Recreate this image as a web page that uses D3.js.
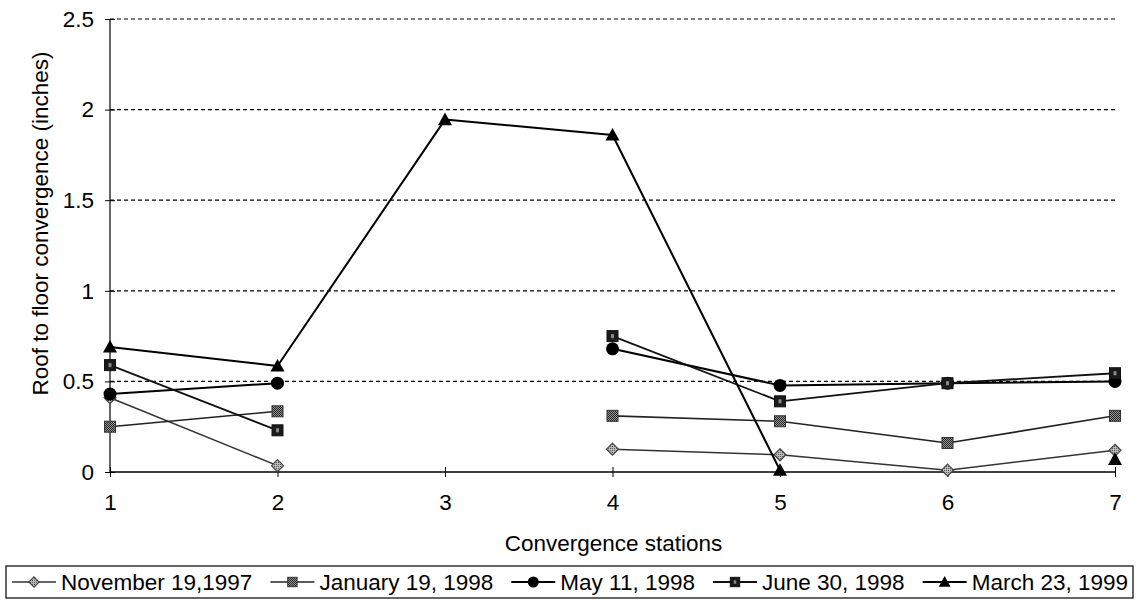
<!DOCTYPE html>
<html>
<head>
<meta charset="utf-8">
<script src="https://cdn.jsdelivr.net/npm/d3@7"></script>
<style>
  html, body { margin: 0; padding: 0; background: #fff; }
  svg { display: block; font-family: Arial, "Liberation Sans", sans-serif; }
</style>
</head>
<body>
<svg id="chart" width="1137" height="606"></svg>
<script>
// Convergence stations along the x axis
const stations = [1, 2, 3, 4, 5, 6, 7];
const yTicks = [0, 0.5, 1, 1.5, 2, 2.5];

// Roof to floor convergence (inches) per survey date; null = no reading
const nov1997 = [0.41, 0.035, null, 0.126, 0.095, 0.01, 0.12];
const jan1998 = [0.25, 0.335, null, 0.31, 0.28, 0.16, 0.31];
const may1998 = [0.43, 0.49, null, 0.68, 0.478, 0.49, 0.50];
const jun1998 = [0.59, 0.23, null, 0.75, 0.39, 0.49, 0.545];
const mar1999 = [0.69, 0.585, 1.945, 1.86, 0.01, null, 0.07];

const seriesNames = ["November 19,1997", "January 19, 1998", "May 11, 1998", "June 30, 1998", "March 23, 1999"];

const series = [
  { name: seriesNames[0], values: nov1997, marker: "diamond", line: "#333", lw: 1.5 },
  { name: seriesNames[1], values: jan1998, marker: "squareGray", line: "#222", lw: 1.6 },
  { name: seriesNames[2], values: may1998, marker: "circle", line: "#000", lw: 2 },
  { name: seriesNames[3], values: jun1998, marker: "squareDark", line: "#111", lw: 1.8 },
  { name: seriesNames[4], values: mar1999, marker: "triangle", line: "#000", lw: 2 }
];

const svg = d3.select("#chart");
const FONT = 22.5;

// halftone-like fills for the grey markers
const defs = svg.append("defs");
const pg = defs.append("pattern").attr("id", "halfGray")
  .attr("width", 2).attr("height", 2).attr("patternUnits", "userSpaceOnUse");
pg.append("rect").attr("width", 2).attr("height", 2).attr("fill", "#999");
pg.append("rect").attr("width", 1).attr("height", 1).attr("fill", "#222");
pg.append("rect").attr("x", 1).attr("y", 1).attr("width", 1).attr("height", 1).attr("fill", "#222");

const pd = defs.append("pattern").attr("id", "halfDiamond")
  .attr("width", 2).attr("height", 2).attr("patternUnits", "userSpaceOnUse");
pd.append("rect").attr("width", 2).attr("height", 2).attr("fill", "#bbb");
pd.append("rect").attr("width", 1).attr("height", 1).attr("fill", "#555");

const x = d3.scaleLinear().domain([1, 7]).range([110, 1115]);
const y = d3.scaleLinear().domain([0, 2.5]).range([472, 19]);

// dashed horizontal gridlines
svg.append("g").selectAll("line").data(yTicks.filter(d => d > 0)).join("line")
  .attr("x1", x(1)).attr("x2", x(7) + 2)
  .attr("y1", d => y(d)).attr("y2", d => y(d))
  .attr("stroke", "#000").attr("stroke-width", 1.2)
  .attr("stroke-dasharray", "4,3");

// y axis with ticks crossing the axis line
const yAxis = svg.append("g").attr("transform", `translate(${x(1)},0)`)
  .call(d3.axisLeft(y).tickValues(yTicks).tickFormat(d3.format("")).tickSize(5).tickPadding(11));
yAxis.select(".domain").attr("stroke", "#333").attr("stroke-width", 1.5).attr("d", `M0,${y(2.5)}V${y(0)}`);
yAxis.selectAll(".tick line").attr("x2", -5).attr("x1", 5).attr("stroke", "#000");
yAxis.selectAll(".tick text").attr("font-size", FONT).attr("fill", "#000")
  .attr("font-family", "Arial, 'Liberation Sans', sans-serif");

// x axis
const xAxis = svg.append("g").attr("transform", `translate(0,${y(0)})`)
  .call(d3.axisBottom(x).tickValues(stations).tickFormat(d3.format("d")).tickSize(5).tickPadding(17));
xAxis.select(".domain").attr("stroke", "#000").attr("stroke-width", 1.5).attr("d", `M${x(1)},0H${x(7)}`);
xAxis.selectAll(".tick line").attr("y1", -5).attr("y2", 5).attr("stroke", "#000");
xAxis.selectAll(".tick text").attr("font-size", FONT).attr("fill", "#000")
  .attr("font-family", "Arial, 'Liberation Sans', sans-serif");

// axis titles
svg.append("text").attr("x", (x(1) + x(7)) / 2 + 1).attr("y", 551)
  .attr("text-anchor", "middle").attr("font-size", FONT).text("Convergence stations");
svg.append("text").attr("transform", `translate(48,${(y(0) + y(2.5)) / 2 - 22}) rotate(-90)`)
  .attr("text-anchor", "middle").attr("font-size", FONT).text("Roof to floor convergence (inches)");

// marker drawing
function drawMarker(g, type, cx, cy, scale = 1) {
  if (type === "diamond") {
    const s = 6 * scale;
    g.append("path").attr("d", `M${cx},${cy - s}L${cx + s},${cy}L${cx},${cy + s}L${cx - s},${cy}Z`)
      .attr("fill", "url(#halfDiamond)").attr("stroke", "#444").attr("stroke-width", 1.2);
  } else if (type === "squareGray") {
    const s = 5.5 * scale;
    g.append("rect").attr("x", cx - s).attr("y", cy - s).attr("width", 2 * s).attr("height", 2 * s)
      .attr("fill", "url(#halfGray)").attr("stroke", "#333").attr("stroke-width", 1);
  } else if (type === "squareDark") {
    const s = 5.5 * scale;
    g.append("rect").attr("x", cx - s).attr("y", cy - s).attr("width", 2 * s).attr("height", 2 * s)
      .attr("fill", "#1a1a1a").attr("stroke", "#111").attr("stroke-width", 1);
    g.append("rect").attr("x", cx - 1.5 * scale).attr("y", cy - 2 * scale).attr("width", 3 * scale).attr("height", 4 * scale)
      .attr("fill", "#888");
  } else if (type === "circle") {
    g.append("circle").attr("cx", cx).attr("cy", cy).attr("r", 6.5 * scale).attr("fill", "#000");
  } else if (type === "triangle") {
    const s = 7 * scale;
    g.append("path").attr("d", `M${cx},${cy - s}L${cx + s},${cy + s * 0.8}L${cx - s},${cy + s * 0.8}Z`)
      .attr("fill", "#000");
  }
}

const line = d3.line()
  .defined(d => d.v !== null)
  .x(d => x(d.s)).y(d => y(d.v));

series.forEach(sr => {
  const pts = stations.map((s, i) => ({ s, v: sr.values[i] }));
  const g = svg.append("g");
  g.append("path").datum(pts).attr("d", line)
    .attr("fill", "none").attr("stroke", sr.line).attr("stroke-width", sr.lw)
    .attr("stroke-linejoin", "round");
  pts.filter(p => p.v !== null).forEach(p => drawMarker(g, sr.marker, x(p.s), y(p.v)));
});

// legend in a bordered box along the bottom
const legend = svg.append("g");
const lgLeft = 6, lgRight = 1133, lgTop = 566, lgBottom = 598;
legend.append("rect").attr("x", lgLeft).attr("y", lgTop)
  .attr("width", lgRight - lgLeft).attr("height", lgBottom - lgTop)
  .attr("fill", "#fff").attr("stroke", "#000").attr("stroke-width", 1.2);

const items = legend.selectAll("g.item").data(series).join("g").attr("class", "item");
const texts = items.append("text").attr("font-size", FONT).attr("y", 590).text(d => d.name);
const widths = [];
texts.each(function () { widths.push(this.getComputedTextLength()); });
const lineLen = 44, textGap = 5;
const startX = 12, endX = 1128;
const totalText = d3.sum(widths);
const gap = (endX - startX - totalText - series.length * (lineLen + textGap)) / (series.length - 1);
let cur = startX;
items.each(function (d, i) {
  const g = d3.select(this);
  const cy = 582;
  g.insert("line", "text").attr("x1", cur).attr("x2", cur + lineLen).attr("y1", cy).attr("y2", cy)
    .attr("stroke", d.line).attr("stroke-width", d.lw);
  drawMarker(g, d.marker, cur + lineLen / 2, cy, 0.85);
  g.select("text").attr("x", cur + lineLen + textGap);
  cur += lineLen + textGap + widths[i] + gap;
});
</script>
</body>
</html>
